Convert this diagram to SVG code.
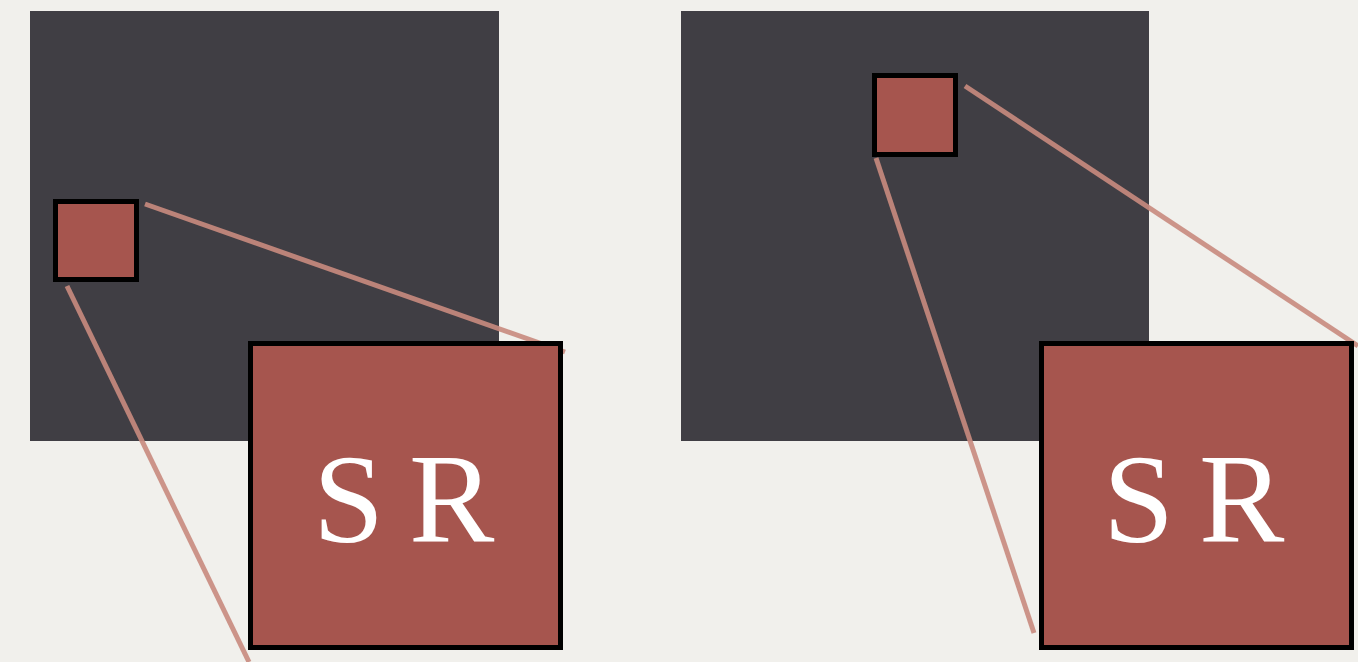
<svg xmlns="http://www.w3.org/2000/svg" width="1358" height="662" viewBox="0 0 1358 662">
<style>
.bg{fill:#f1f0ec}
.dark{fill:#403e44}
.box{fill:#a6554e;stroke:#000;stroke-width:5}
.lbl{font-family:"Liberation Serif","Times New Roman",serif;font-size:128px;fill:#ffffff}
.ln{stroke:#c98b7f;stroke-width:5;stroke-linecap:butt;opacity:0.9}
</style>
<rect class="bg" x="0" y="0" width="1358" height="662"/>
<g id="panel-left">
<rect class="dark" x="30" y="11" width="469" height="430"/>
</g>
<g id="panel-right">
<rect class="dark" x="681" y="11" width="468" height="430"/>
</g>
<g id="small-left"><rect class="box" x="55.5" y="201.5" width="81" height="78"/></g>
<g id="small-right"><rect class="box" x="874.5" y="75.5" width="81" height="79"/></g>
<g id="connectors">
<line class="ln" x1="145" y1="204" x2="565" y2="352"/>
<line class="ln" x1="67" y1="286" x2="249" y2="662"/>
<line class="ln" x1="965" y1="86" x2="1358" y2="346"/>
<line class="ln" x1="876" y1="158" x2="1034" y2="633"/>
</g>
<g id="zoom-left">
<rect class="box" x="250.5" y="343.5" width="310" height="304"/>
<text class="lbl" y="542"><tspan x="313">S</tspan> <tspan x="409">R</tspan></text>
</g>
<g id="zoom-right">
<rect class="box" x="1041.5" y="343.5" width="310" height="304"/>
<text class="lbl" y="542"><tspan x="1103">S</tspan> <tspan x="1199">R</tspan></text>
</g>
</svg>
